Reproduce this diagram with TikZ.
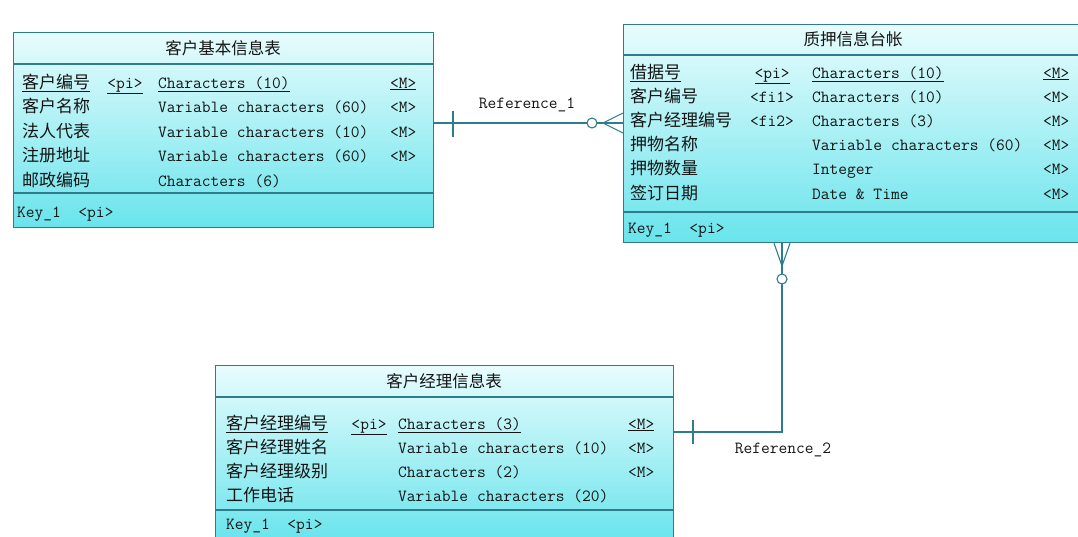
\documentclass[tikz,border=0pt]{standalone}
\usepackage{fontspec}
\setmainfont{Liberation Serif}
\newfontfamily\cjk{Noto Sans CJK SC}
\usetikzlibrary{calc}
\definecolor{bord}{RGB}{45,125,140}
\definecolor{topc}{RGB}{232,252,253}
\definecolor{botc}{RGB}{105,228,236}
\definecolor{txt}{RGB}{20,20,20}
\begin{document}
\begin{tikzpicture}[x=1pt,y=-1pt,
  tbl/.style={rectangle, draw=bord, line width=1.2pt, top color=topc, bottom color=botc, anchor=north west, inner sep=0pt},
  sep/.style={draw=bord, line width=1.2pt},
  cn/.style={anchor=base west, inner sep=0pt, font=\cjk\fontsize{17}{17}\selectfont, text=txt},
  en/.style={anchor=base west, inner sep=0pt, font=\ttfamily\fontsize{17}{17}\selectfont, text=txt},
  kc/.style={anchor=base, inner sep=0pt, font=\ttfamily\fontsize{17}{17}\selectfont, text=txt},
  ttl/.style={anchor=center, inner sep=0pt, font=\cjk\fontsize{16.5}{17}\selectfont, text=txt},
  link/.style={draw=bord, line width=1.1pt},
  endc/.style={circle, draw=bord, line width=1.1pt, fill=white, inner sep=0pt, minimum size=10pt},
  lbl/.style={anchor=center, inner sep=0pt, font=\ttfamily\fontsize{17}{17}\selectfont, text=txt}]
\useasboundingbox (0,0) rectangle (1078,536);

% ---------------- table 1 ----------------
\node[tbl, minimum width=420pt, minimum height=195pt] (t1) at (13,32) {};
\draw[sep] (13,64) -- (433,64);
\draw[sep] (13,193) -- (433,193);
\node[ttl] (t1t) at (223,48) {客户基本信息表};
\node[cn] (t1n1) at (22,88) {\underline{客户编号}};
\node[kc] (t1k1) at (125,88) {\underline{<pi>}};
\node[en] (t1y1) at (158,88) {\underline{Characters (10)}};
\node[en] (t1m1) at (390,88) {\underline{<M>}};
\foreach \n/\t/\m [count=\i from 2] in {客户名称/Variable characters (60)/<M>, 法人代表/Variable characters (10)/<M>, 注册地址/Variable characters (60)/<M>, 邮政编码/Characters (6)/{}}{
  \node[cn] (t1n\i) at (22,{88+24.5*(\i-1)}) {\n};
  \node[en] (t1y\i) at (158,{88+24.5*(\i-1)}) {\t};
  \node[en] (t1m\i) at (390,{88+24.5*(\i-1)}) {\m};
}
\node[en] (t1key) at (17,217) {Key\_1 \ <pi>};

% ---------------- table 2 ----------------
\node[tbl, minimum width=462pt, minimum height=218pt] (t2) at (623,24) {};
\draw[sep] (623,55) -- (1085,55);
\draw[sep] (623,212) -- (1085,212);
\node[ttl] (t2t) at (853,39) {质押信息台帐};
\node[cn] (t2n1) at (630,78) {\underline{借据号}};
\node[kc] (t2k1) at (772,78) {\underline{<pi>}};
\node[en] (t2y1) at (812,78) {\underline{Characters (10)}};
\node[en] (t2m1) at (1043,78) {\underline{<M>}};
\foreach \n/\k/\t [count=\i from 2] in {客户编号/<fi1>/Characters (10), 客户经理编号/<fi2>/Characters (3), 押物名称/{}/Variable characters (60), 押物数量/{}/Integer, 签订日期/{}/Date \& Time}{
  \node[cn] (t2n\i) at (630,{78+24.2*(\i-1)}) {\n};
  \node[kc] (t2k\i) at (772,{78+24.2*(\i-1)}) {\k};
  \node[en] (t2y\i) at (812,{78+24.2*(\i-1)}) {\t};
  \node[en] (t2m\i) at (1043,{78+24.2*(\i-1)}) {<M>};
}
\node[en] (t2key) at (628,233) {Key\_1 \ <pi>};

% ---------------- table 3 ----------------
\node[tbl, minimum width=458pt, minimum height=176pt] (t3) at (215,365) {};
\draw[sep] (215,397) -- (673,397);
\draw[sep] (215,510) -- (673,510);
\node[ttl] (t3t) at (444,381) {客户经理信息表};
\node[cn] (t3n1) at (226,429) {\underline{客户经理编号}};
\node[kc] (t3k1) at (369,429) {\underline{<pi>}};
\node[en] (t3y1) at (398,429) {\underline{Characters (3)}};
\node[en] (t3m1) at (628,429) {\underline{<M>}};
\foreach \n/\t/\m [count=\i from 2] in {客户经理姓名/Variable characters (10)/<M>, 客户经理级别/Characters (2)/<M>, 工作电话/Variable characters (20)/{}}{
  \node[cn] (t3n\i) at (226,{429+24*(\i-1)}) {\n};
  \node[en] (t3y\i) at (398,{429+24*(\i-1)}) {\t};
  \node[en] (t3m\i) at (628,{429+24*(\i-1)}) {\m};
}
\node[en] (t3key) at (226,529) {Key\_1 \ <pi>};

% ---------------- Reference_1 ----------------
\coordinate (r1) at (0,123);
\coordinate (r1f) at (603,123);
\draw[link] (t1.east |- r1) -- (t2.west |- r1);
\draw[link] (453,111) -- (453,137);
\node[endc] (r1c) at (592,123) {};
\draw[link] (r1f) -- ($(t2.west |- r1)+(0,-10)$);
\draw[link] (r1f) -- ($(t2.west |- r1)+(0,10)$);
\node[lbl] (r1l) at (527,105) {Reference\_1};

% ---------------- Reference_2 ----------------
\coordinate (k2) at (782,432);
\coordinate (r2f) at (782,266);
\draw[link] (t2.south -| k2) -- (k2) -- (t3.east |- k2);
\draw[link] (693,420) -- (693,444);
\node[endc] (r2c) at (782,279) {};
\draw[link] (r2f) -- ($(t2.south -| k2)+(-8,0)$);
\draw[link] (r2f) -- ($(t2.south -| k2)+(8,0)$);
\node[lbl] (r2l) at (783,450) {Reference\_2};
\end{tikzpicture}
\end{document}
